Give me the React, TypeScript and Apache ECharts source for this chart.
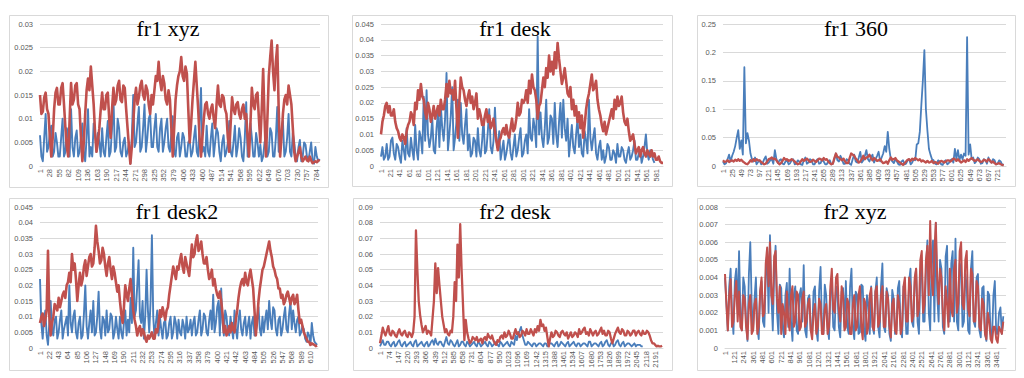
import React, { useEffect, useRef } from "react";
import * as echarts from "echarts";

// ---- chart data ----
// each series: values at k*step, plus values read at the half-step between them
const titles = ["fr1 xyz", "fr1 desk", "fr1 360", "fr1 desk2", "fr2 desk", "fr2 xyz"];
const lastIndex = [793, 594, 742, 626, 2251, 3599];
const labelStep = [27, 20, 24, 21, 73, 120];
const sampleStep = [8, 6, 8, 6, 22, 36];
const yMax = [0.03, 0.045, 0.25, 0.045, 0.09, 0.008];
const yStep = [0.005, 0.005, 0.05, 0.005, 0.01, 0.001];

const blue1 = [
  0.0065, 0.001, 0.011, 0.004, 0.0085, 0.003, 0.005, 0.002, 0.01, 0.003,
  0.006, 0.012, 0.002, 0.0075, 0.003, 0.009, 0.001, 0.012, 0.004, 0.009,
  0.003, 0.005, 0.008, 0.002, 0.0095, 0.003, 0.0145, 0.004, 0.008, 0.002,
  0.006, 0.003, 0.0005, 0.015, 0.005, 0.0125, 0.004, 0.013, 0.006, 0.011,
  0.004, 0.011, 0.003, 0.01, 0.005, 0.01, 0.003, 0.0105, 0.002, 0.007,
  0.004, 0.006, 0.002, 0.0055, 0.003, 0.0085, 0.002, 0.0165, 0.004, 0.0085,
  0.002, 0.009, 0.005, 0.007, 0.001, 0.0065, 0.003, 0.0095, 0.002, 0.0085,
  0.004, 0.006, 0.001, 0.0135, 0.005, 0.006, 0.002, 0.005, 0.0045, 0.002,
  0.006, 0.003, 0.007, 0.002, 0.0125, 0.004, 0.0095, 0.003, 0.011, 0.002,
  0.005, 0.001, 0.0055, 0.002, 0.0045, 0.001, 0.005, 0.0005, 0.002, 0.0015,
];
const blue1Mid = [
  0.002, 0.006, 0.003, 0.007, 0.002, 0.007, 0.002, 0.006, 0.002, 0.008,
  0.002, 0.004, 0.006, 0.002, 0.006, 0.003, 0.006, 0.002, 0.002, 0.007,
  0.007, 0.002, 0.003, 0.006, 0.002, 0.008, 0.003, 0.01, 0.003, 0.005,
  0.002, 0.005, 0.006, 0.004, 0.009, 0.003, 0.008, 0.003, 0.01, 0.004,
  0.008, 0.004, 0.008, 0.003, 0.008, 0.004, 0.007, 0.003, 0.006, 0.002,
  0.007, 0.002, 0.005, 0.002, 0.006, 0.003, 0.009, 0.003, 0.002, 0.003,
  0.006, 0.002, 0.008, 0.003, 0.005, 0.002, 0.005, 0.003, 0.005, 0.002,
  0.008, 0.002, 0.006, 0.002, 0.009, 0.002, 0.007, 0.002, 0.001, 0.005,
  0.002, 0.008, 0.002, 0.006, 0.003, 0.007, 0.002, 0.006, 0.003, 0.007,
  0.002, 0.004, 0.001, 0.005, 0.002, 0.003, 0.001, 0.004, 0.001,
];
const red1 = [
  0.015, 0.0115, 0.0155, 0.011, 0.002, 0.012, 0.0165, 0.013, 0.0175, 0.008,
  0.002, 0.0175, 0.014, 0.0175, 0.012, 0.001, 0.011, 0.0185, 0.021, 0.013,
  0.003, 0.008, 0.0155, 0.012, 0.0155, 0.006, 0.0165, 0.014, 0.018, 0.0135,
  0.0165, 0.008, 0.0005, 0.009, 0.0165, 0.0145, 0.018, 0.014, 0.016, 0.011,
  0.013, 0.019, 0.022, 0.016, 0.0175, 0.013, 0.014, 0.002, 0.014, 0.019,
  0.023, 0.018, 0.0195, 0.005, 0.014, 0.022, 0.012, 0.002, 0.01, 0.0135,
  0.01, 0.013, 0.008, 0.017, 0.0125, 0.0145, 0.011, 0.003, 0.0145, 0.011,
  0.0135, 0.01, 0.013, 0.011, 0.002, 0.0165, 0.012, 0.0155, 0.005, 0.0205,
  0.002, 0.019, 0.0265, 0.016, 0.0255, 0.002, 0.011, 0.015, 0.017, 0.013,
  0.003, 0.002, 0.004, 0.001, 0.002, 0.001, 0.0012, 0.0008, 0.0008, 0.001,
];
const red1Mid = [
  0.011, 0.0145, 0.012, 0.006, 0.006, 0.0155, 0.013, 0.0165, 0.013, 0.004,
  0.01, 0.013, 0.017, 0.013, 0.006, 0.005, 0.016, 0.016, 0.017, 0.007,
  0.005, 0.012, 0.012, 0.015, 0.01, 0.012, 0.013, 0.017, 0.014, 0.017,
  0.012, 0.004, 0.004, 0.014, 0.013, 0.017, 0.015, 0.017, 0.013, 0.015,
  0.016, 0.018, 0.018, 0.019, 0.014, 0.016, 0.008, 0.008, 0.017, 0.02,
  0.019, 0.021, 0.012, 0.009, 0.018, 0.017, 0.006, 0.006, 0.013, 0.011,
  0.012, 0.01, 0.013, 0.013, 0.015, 0.012, 0.006, 0.009, 0.012, 0.013,
  0.011, 0.012, 0.01, 0.006, 0.009, 0.013, 0.015, 0.01, 0.012, 0.01,
  0.01, 0.023, 0.02, 0.022, 0.012, 0.006, 0.014, 0.013, 0.015, 0.008,
  0.001, 0.003, 0.002, 0.0015, 0.0012, 0.002, 0.0006, 0.001, 0.0012,
];

const blue2 = [
  0.003, 0.002, 0.007, 0.003, 0.009, 0.002, 0.006, 0.001, 0.005, 0.012,
  0.003, 0.005, 0.013, 0.002, 0.009, 0.022, 0.024, 0.006, 0.015, 0.004,
  0.017, 0.019, 0.008, 0.0295, 0.01, 0.025, 0.009, 0.021, 0.02, 0.007,
  0.018, 0.01, 0.004, 0.008, 0.012, 0.003, 0.015, 0.005, 0.018, 0.004,
  0.0185, 0.006, 0.002, 0.008, 0.004, 0.01, 0.002, 0.01, 0.005, 0.012,
  0.004, 0.01, 0.018, 0.008, 0.012, 0.041, 0.017, 0.006, 0.021, 0.009,
  0.015, 0.02, 0.006, 0.02, 0.021, 0.008, 0.003, 0.013, 0.004, 0.015,
  0.01, 0.003, 0.008, 0.021, 0.005, 0.012, 0.002, 0.008, 0.005, 0.003,
  0.006, 0.002, 0.004, 0.007, 0.003, 0.005, 0.001, 0.006, 0.003, 0.008,
  0.002, 0.005, 0.003, 0.01, 0.002, 0.004, 0.001,
];
const blue2Mid = [
  0.006, 0.003, 0.002, 0.008, 0.004, 0.007, 0.003, 0.008, 0.002, 0.004,
  0.009, 0.002, 0.005, 0.011, 0.004, 0.008, 0.01, 0.009, 0.005, 0.012,
  0.006, 0.012, 0.015, 0.005, 0.016, 0.005, 0.014, 0.008, 0.01, 0.013,
  0.005, 0.003, 0.009, 0.003, 0.005, 0.008, 0.004, 0.011, 0.006, 0.008,
  0.008, 0.011, 0.005, 0.002, 0.007, 0.004, 0.006, 0.003, 0.009, 0.003,
  0.008, 0.004, 0.009, 0.015, 0.006, 0.01, 0.009, 0.012, 0.007, 0.016,
  0.007, 0.01, 0.014, 0.009, 0.012, 0.015, 0.008, 0.006, 0.01, 0.006,
  0.004, 0.011, 0.004, 0.009, 0.009, 0.004, 0.006, 0.002, 0.001, 0.007,
  0.002, 0.005, 0.001, 0.003, 0.006, 0.002, 0.004, 0.002, 0.005, 0.002,
  0.004, 0.001, 0.006, 0.004, 0.005, 0.002,
];
const red2 = [
  0.01, 0.016, 0.02, 0.019, 0.016, 0.014, 0.011, 0.008, 0.009, 0.011,
  0.014, 0.016, 0.02, 0.024, 0.026, 0.021, 0.015, 0.018, 0.016, 0.015,
  0.019, 0.021, 0.018, 0.026, 0.027, 0.024, 0.027, 0.009, 0.028, 0.024,
  0.019, 0.024, 0.022, 0.02, 0.015, 0.016, 0.013, 0.018, 0.016, 0.013,
  0.011, 0.005, 0.009, 0.012, 0.013, 0.009, 0.015, 0.012, 0.02, 0.017,
  0.02, 0.024, 0.027, 0.029, 0.024, 0.015, 0.02, 0.028, 0.031, 0.035,
  0.033, 0.036, 0.039, 0.03, 0.028, 0.027, 0.022, 0.018, 0.016, 0.014,
  0.012, 0.009, 0.018, 0.023, 0.029, 0.025, 0.021, 0.016, 0.011, 0.01,
  0.014, 0.018, 0.021, 0.022, 0.02, 0.017, 0.013, 0.011, 0.009, 0.007,
  0.005, 0.003, 0.006, 0.003, 0.004, 0.005, 0.004, 0.002, 0.0015, 0.001,
];
const red2Mid = [
  0.014, 0.019, 0.017, 0.016, 0.018, 0.012, 0.009, 0.01, 0.007, 0.013,
  0.017, 0.013, 0.018, 0.021, 0.022, 0.017, 0.02, 0.014, 0.019, 0.017,
  0.016, 0.018, 0.021, 0.022, 0.023, 0.021, 0.018, 0.02, 0.025, 0.021,
  0.022, 0.02, 0.018, 0.023, 0.018, 0.013, 0.016, 0.014, 0.012, 0.015,
  0.008, 0.008, 0.011, 0.01, 0.01, 0.012, 0.011, 0.015, 0.016, 0.021,
  0.021, 0.02, 0.023, 0.025, 0.021, 0.019, 0.024, 0.025, 0.028, 0.03,
  0.029, 0.031, 0.034, 0.026, 0.031, 0.023, 0.025, 0.021, 0.019, 0.017,
  0.016, 0.013, 0.021, 0.026, 0.024, 0.027, 0.018, 0.013, 0.014, 0.012,
  0.016, 0.015, 0.018, 0.019, 0.022, 0.014, 0.015, 0.008, 0.01, 0.004,
  0.006, 0.005, 0.004, 0.005, 0.003, 0.003, 0.002, 0.003, 0.001,
];

const blue3 = [
  0.008, 0.005, 0.02, 0.018, 0.035, 0.063, 0.045, 0.174, 0.058, 0.022,
  0.008, 0.003, 0.01, 0.005, 0.017, 0.006, 0.012, 0.028, 0.005, 0.012,
  0.003, 0.01, 0.005, 0.012, 0.004, 0.008, 0.002, 0.015, 0.006, 0.01,
  0.003, 0.012, 0.005, 0.008, 0.003, 0.01, 0.004, 0.022, 0.008, 0.012,
  0.004, 0.01, 0.002, 0.02, 0.006, 0.025, 0.01, 0.028, 0.008, 0.02,
  0.012, 0.025, 0.015, 0.035, 0.06, 0.012, 0.005, 0.008, 0.002, 0.01,
  0.004, 0.012, 0.006, 0.01, 0.04, 0.107, 0.204, 0.062, 0.02, 0.01,
  0.003, 0.008, 0.002, 0.01, 0.005, 0.012, 0.03, 0.028, 0.02, 0.022,
  0.227, 0.038, 0.015, 0.008, 0.012, 0.005, 0.01, 0.015, 0.006, 0.01,
  0.004, 0.008, 0.003,
];
const blue3Mid = [
  0.003, 0.012, 0.008, 0.025, 0.05, 0.03, 0.02, 0.04, 0.045, 0.012,
  0.015, 0.007, 0.003, 0.012, 0.004, 0.01, 0.004, 0.012, 0.01, 0.004,
  0.008, 0.003, 0.01, 0.003, 0.01, 0.003, 0.01, 0.004, 0.012, 0.003,
  0.009, 0.004, 0.012, 0.003, 0.008, 0.003, 0.012, 0.01, 0.018, 0.004,
  0.012, 0.004, 0.012, 0.008, 0.015, 0.006, 0.018, 0.012, 0.015, 0.006,
  0.018, 0.008, 0.022, 0.025, 0.03, 0.008, 0.012, 0.003, 0.008, 0.003,
  0.01, 0.003, 0.012, 0.038, 0.06, 0.15, 0.1, 0.03, 0.012, 0.004,
  0.01, 0.003, 0.008, 0.003, 0.01, 0.006, 0.012, 0.01, 0.012, 0.018,
  0.02, 0.012, 0.005, 0.015, 0.004, 0.012, 0.004, 0.008, 0.012, 0.003,
  0.01, 0.002,
];
const red3 = [
  0.01, 0.008, 0.007, 0.01, 0.011, 0.012, 0.011, 0.006, 0.003, 0.01,
  0.012, 0.012, 0.01, 0.005, 0.004, 0.012, 0.015, 0.013, 0.006, 0.005,
  0.014, 0.012, 0.01, 0.01, 0.005, 0.004, 0.012, 0.011, 0.01, 0.008,
  0.009, 0.01, 0.012, 0.014, 0.012, 0.005, 0.004, 0.022, 0.015, 0.01,
  0.008, 0.005, 0.022, 0.018, 0.01, 0.008, 0.018, 0.015, 0.02, 0.01,
  0.012, 0.01, 0.008, 0.006, 0.004, 0.015, 0.012, 0.01, 0.006, 0.002,
  0.008, 0.012, 0.013, 0.014, 0.01, 0.008, 0.008, 0.009, 0.007, 0.005,
  0.006, 0.007, 0.008, 0.008, 0.01, 0.01, 0.012, 0.012, 0.006, 0.01,
  0.012, 0.012, 0.011, 0.01, 0.009, 0.008, 0.01, 0.012, 0.006, 0.005,
  0.004, 0.003, 0.001,
];
const red3Mid = [
  0.007, 0.01, 0.009, 0.008, 0.009, 0.009, 0.008, 0.004, 0.006, 0.008,
  0.009, 0.01, 0.007, 0.003, 0.008, 0.013, 0.012, 0.01, 0.003, 0.009,
  0.011, 0.009, 0.012, 0.008, 0.003, 0.008, 0.009, 0.013, 0.007, 0.011,
  0.007, 0.013, 0.01, 0.011, 0.008, 0.003, 0.014, 0.016, 0.012, 0.013,
  0.005, 0.014, 0.02, 0.013, 0.006, 0.012, 0.012, 0.016, 0.014, 0.014,
  0.009, 0.012, 0.005, 0.008, 0.01, 0.011, 0.014, 0.008, 0.004, 0.005,
  0.011, 0.009, 0.011, 0.012, 0.012, 0.01, 0.006, 0.006, 0.009, 0.007,
  0.004, 0.009, 0.006, 0.01, 0.008, 0.013, 0.009, 0.009, 0.008, 0.007,
  0.009, 0.014, 0.009, 0.012, 0.007, 0.011, 0.008, 0.01, 0.008, 0.003,
  0.005, 0.002,
];

const blue4 = [
  0.022, 0.003, 0.012, 0.001, 0.015, 0.004, 0.01, 0.005, 0.012, 0.006,
  0.01, 0.02, 0.005, 0.012, 0.003, 0.01, 0.004, 0.02, 0.003, 0.012,
  0.015, 0.005, 0.018, 0.003, 0.009, 0.012, 0.006, 0.01, 0.005, 0.006,
  0.01, 0.003, 0.012, 0.009, 0.016, 0.032, 0.012, 0.028, 0.008, 0.003,
  0.025, 0.005, 0.036, 0.003, 0.012, 0.01, 0.003, 0.009, 0.004, 0.01,
  0.005, 0.008, 0.009, 0.004, 0.007, 0.01, 0.006, 0.004, 0.01, 0.005,
  0.012, 0.006, 0.01, 0.004, 0.012, 0.017, 0.008, 0.015, 0.019, 0.004,
  0.01, 0.004, 0.006, 0.012, 0.003, 0.012, 0.004, 0.01, 0.007, 0.003,
  0.01, 0.005, 0.013, 0.004, 0.005, 0.012, 0.015, 0.006, 0.012, 0.004,
  0.01, 0.006, 0.013, 0.005, 0.015, 0.012, 0.005, 0.01, 0.005, 0.006,
  0.002, 0.004, 0.008, 0.002, 0.001,
];
const blue4Mid = [
  0.008, 0.009, 0.004, 0.008, 0.006, 0.009, 0.003, 0.009, 0.003, 0.008,
  0.004, 0.008, 0.01, 0.005, 0.008, 0.003, 0.011, 0.007, 0.008, 0.005,
  0.004, 0.01, 0.006, 0.01, 0.004, 0.005, 0.011, 0.003, 0.01, 0.003,
  0.005, 0.008, 0.004, 0.005, 0.008, 0.01, 0.02, 0.01, 0.015, 0.01,
  0.012, 0.015, 0.01, 0.008, 0.004, 0.006, 0.008, 0.003, 0.008, 0.003,
  0.01, 0.003, 0.005, 0.009, 0.003, 0.005, 0.009, 0.008, 0.004, 0.009,
  0.004, 0.011, 0.005, 0.009, 0.006, 0.005, 0.013, 0.004, 0.008, 0.012,
  0.005, 0.01, 0.003, 0.006, 0.009, 0.006, 0.008, 0.004, 0.01, 0.008,
  0.004, 0.009, 0.006, 0.01, 0.009, 0.006, 0.009, 0.013, 0.006, 0.009,
  0.004, 0.01, 0.006, 0.011, 0.006, 0.008, 0.009, 0.004, 0.007, 0.003,
  0.005, 0.001, 0.004, 0.0015,
];
const red4 = [
  0.008, 0.011, 0.009, 0.031, 0.004, 0.01, 0.013, 0.016, 0.015, 0.018,
  0.02, 0.024, 0.03, 0.027, 0.015, 0.024, 0.022, 0.028, 0.026, 0.03,
  0.027, 0.039, 0.031, 0.028, 0.03, 0.023, 0.029, 0.022, 0.024, 0.018,
  0.015, 0.008, 0.02, 0.015, 0.022, 0.012, 0.007, 0.006, 0.004, 0.005,
  0.002, 0.003, 0.005, 0.003, 0.005, 0.012, 0.013, 0.009, 0.013, 0.02,
  0.026, 0.022, 0.025, 0.03, 0.024, 0.027, 0.023, 0.033, 0.03, 0.036,
  0.032, 0.03, 0.027, 0.025, 0.023, 0.02, 0.019, 0.016, 0.015, 0.005,
  0.004, 0.007, 0.008, 0.005, 0.012, 0.019, 0.022, 0.024, 0.02, 0.025,
  0.019, 0.004, 0.015, 0.022, 0.026, 0.03, 0.034, 0.029, 0.025, 0.022,
  0.019, 0.017, 0.015, 0.018, 0.014, 0.017, 0.015, 0.012, 0.009, 0.005,
  0.003, 0.002, 0.0015, 0.001, 0.0008,
];
const red4Mid = [
  0.01, 0.007, 0.012, 0.01, 0.008, 0.014, 0.012, 0.013, 0.017, 0.016,
  0.021, 0.021, 0.025, 0.022, 0.02, 0.02, 0.026, 0.023, 0.029, 0.026,
  0.032, 0.034, 0.027, 0.032, 0.026, 0.027, 0.025, 0.026, 0.021, 0.02,
  0.011, 0.013, 0.017, 0.019, 0.017, 0.009, 0.004, 0.007, 0.006, 0.003,
  0.004, 0.004, 0.003, 0.006, 0.008, 0.01, 0.011, 0.012, 0.017, 0.023,
  0.024, 0.026, 0.028, 0.026, 0.029, 0.025, 0.028, 0.029, 0.034, 0.031,
  0.034, 0.027, 0.029, 0.022, 0.025, 0.022, 0.017, 0.018, 0.011, 0.007,
  0.005, 0.005, 0.006, 0.009, 0.016, 0.021, 0.02, 0.021, 0.023, 0.022,
  0.012, 0.009, 0.019, 0.025, 0.028, 0.032, 0.031, 0.026, 0.023, 0.019,
  0.016, 0.014, 0.017, 0.016, 0.016, 0.014, 0.017, 0.008, 0.007, 0.004,
  0.002, 0.001, 0.0012, 0.0006,
];

const blue5 = [
  0.001, 0.005, 0.002, 0.004, 0.001, 0.004, 0.002, 0.005, 0.001, 0.004,
  0.002, 0.004, 0.001, 0.005, 0.002, 0.004, 0.001, 0.004, 0.002, 0.005,
  0.006, 0.002, 0.004, 0.001, 0.007, 0.002, 0.004, 0.001, 0.005, 0.002,
  0.004, 0.001, 0.003, 0.002, 0.004, 0.001, 0.003, 0.002, 0.004, 0.001,
  0.003, 0.002, 0.004, 0.001, 0.003, 0.002, 0.004, 0.001, 0.003, 0.008,
  0.009, 0.0135, 0.005, 0.002, 0.003, 0.001, 0.003, 0.002, 0.003, 0.001,
  0.003, 0.002, 0.003, 0.001, 0.004, 0.002, 0.003, 0.001, 0.004, 0.002,
  0.004, 0.001, 0.003, 0.002, 0.003, 0.001, 0.004, 0.002, 0.003, 0.001,
  0.004, 0.002, 0.005, 0.001, 0.004, 0.002, 0.005, 0.001, 0.004, 0.002,
  0.003, 0.001, 0.003, 0.002, 0.002, 0.001,
];
const blue5Mid = [
  0.003, 0.002, 0.004, 0.002, 0.003, 0.001, 0.004, 0.002, 0.003, 0.001,
  0.003, 0.002, 0.004, 0.001, 0.003, 0.002, 0.003, 0.001, 0.004, 0.002,
  0.003, 0.004, 0.002, 0.004, 0.003, 0.005, 0.002, 0.003, 0.001, 0.004,
  0.002, 0.004, 0.001, 0.003, 0.002, 0.004, 0.001, 0.003, 0.002, 0.004,
  0.001, 0.003, 0.002, 0.004, 0.001, 0.003, 0.002, 0.004, 0.002, 0.005,
  0.011, 0.008, 0.002, 0.004, 0.002, 0.003, 0.001, 0.003, 0.002, 0.003,
  0.001, 0.003, 0.002, 0.003, 0.001, 0.004, 0.002, 0.003, 0.001, 0.003,
  0.002, 0.003, 0.001, 0.003, 0.002, 0.004, 0.001, 0.003, 0.002, 0.003,
  0.001, 0.004, 0.002, 0.003, 0.001, 0.004, 0.002, 0.003, 0.001, 0.003,
  0.002, 0.002, 0.001, 0.002, 0.001,
];
const red5 = [
  0.003, 0.013, 0.008, 0.014, 0.008, 0.01, 0.007, 0.012, 0.008, 0.011,
  0.007, 0.009, 0.01, 0.075, 0.03, 0.015, 0.012, 0.009, 0.01, 0.019,
  0.054, 0.051, 0.03, 0.015, 0.012, 0.008, 0.01, 0.042, 0.066, 0.079,
  0.028, 0.018, 0.006, 0.004, 0.006, 0.007, 0.005, 0.003, 0.007, 0.009,
  0.006, 0.005, 0.002, 0.004, 0.008, 0.01, 0.008, 0.009, 0.006, 0.012,
  0.01, 0.008, 0.01, 0.012, 0.009, 0.01, 0.012, 0.014, 0.018, 0.015,
  0.013, 0.001, 0.01, 0.008, 0.01, 0.007, 0.011, 0.008, 0.006, 0.01,
  0.008, 0.009, 0.012, 0.01, 0.013, 0.01, 0.012, 0.008, 0.011, 0.009,
  0.013, 0.011, 0.008, 0.01, 0.003, 0.009, 0.013, 0.009, 0.011, 0.008,
  0.01, 0.009, 0.011, 0.01, 0.009, 0.011, 0.009, 0.01, 0.005, 0.003,
  0.001, 0.001, 0.0015,
];
const red5Mid = [
  0.008, 0.01, 0.011, 0.009, 0.011, 0.008, 0.01, 0.009, 0.01, 0.008,
  0.01, 0.007, 0.02, 0.05, 0.021, 0.01, 0.014, 0.011, 0.008, 0.03,
  0.035, 0.04, 0.02, 0.01, 0.009, 0.011, 0.02, 0.03, 0.045, 0.05,
  0.005, 0.01, 0.003, 0.007, 0.005, 0.004, 0.006, 0.006, 0.005, 0.007,
  0.008, 0.003, 0.005, 0.007, 0.006, 0.007, 0.011, 0.006, 0.009, 0.009,
  0.007, 0.011, 0.008, 0.009, 0.012, 0.008, 0.01, 0.011, 0.014, 0.011,
  0.007, 0.006, 0.007, 0.011, 0.008, 0.01, 0.009, 0.01, 0.008, 0.007,
  0.01, 0.007, 0.009, 0.012, 0.009, 0.008, 0.01, 0.01, 0.008, 0.011,
  0.009, 0.008, 0.011, 0.006, 0.006, 0.011, 0.01, 0.012, 0.008, 0.011,
  0.008, 0.011, 0.008, 0.011, 0.008, 0.009, 0.011, 0.008, 0.003, 0.002,
  0.0015, 0.001,
];

const blue6 = [
  0.004, 0.001, 0.0045, 0.0008, 0.0045, 0.0055, 0.001, 0.0035, 0.0004, 0.006,
  0.001, 0.004, 0.0005, 0.0038, 0.0012, 0.0055, 0.0064, 0.001, 0.0058, 0.0008,
  0.0034, 0.0006, 0.0037, 0.0045, 0.0004, 0.0035, 0.0008, 0.0034, 0.0047, 0.0006,
  0.003, 0.0009, 0.0035, 0.0004, 0.0046, 0.0008, 0.003, 0.0005, 0.0038, 0.001,
  0.0032, 0.0006, 0.0034, 0.0038, 0.0008, 0.0045, 0.0005, 0.003, 0.0009, 0.0035,
  0.0004, 0.0025, 0.0035, 0.0008, 0.004, 0.0006, 0.0048, 0.0009, 0.003, 0.0004,
  0.0028, 0.001, 0.0038, 0.0006, 0.003, 0.0008, 0.0045, 0.0012, 0.0045, 0.0008,
  0.0048, 0.0015, 0.0061, 0.001, 0.0061, 0.0071, 0.0015, 0.0045, 0.0008, 0.0058,
  0.0015, 0.0055, 0.0062, 0.001, 0.0045, 0.0015, 0.0035, 0.0008, 0.0055, 0.0012,
  0.0042, 0.0006, 0.0035, 0.0004, 0.003, 0.0006, 0.0038, 0.0008, 0.0023, 0.0018,
];
const blue6Mid = [
  0.0025, 0.0035, 0.002, 0.0038, 0.002, 0.002, 0.004, 0.0015, 0.0042, 0.0025,
  0.0028, 0.0012, 0.0032, 0.0015, 0.004, 0.002, 0.003, 0.0042, 0.002, 0.0036,
  0.0012, 0.003, 0.0012, 0.0015, 0.003, 0.001, 0.003, 0.0015, 0.001, 0.0028,
  0.001, 0.0032, 0.001, 0.0033, 0.0012, 0.0036, 0.0012, 0.0032, 0.0012, 0.0035,
  0.0012, 0.0032, 0.0012, 0.0012, 0.0035, 0.0012, 0.0032, 0.0008, 0.0036, 0.001,
  0.003, 0.0008, 0.0012, 0.0032, 0.0012, 0.0035, 0.0012, 0.0034, 0.0008, 0.0033,
  0.0008, 0.0034, 0.001, 0.0035, 0.0008, 0.0038, 0.0015, 0.0038, 0.0015, 0.004,
  0.0015, 0.0045, 0.002, 0.005, 0.0015, 0.003, 0.005, 0.0012, 0.0052, 0.0015,
  0.0048, 0.0015, 0.0015, 0.0048, 0.0012, 0.0042, 0.001, 0.0045, 0.0015, 0.004,
  0.001, 0.0034, 0.0008, 0.0032, 0.0008, 0.003, 0.0008, 0.002, 0.0008,
];
const red6 = [
  0.0042, 0.001, 0.0039, 0.0015, 0.0038, 0.0032, 0.001, 0.0028, 0.0005, 0.003,
  0.001, 0.0028, 0.0012, 0.004, 0.002, 0.0057, 0.006, 0.0025, 0.0055, 0.002,
  0.0008, 0.002, 0.0032, 0.001, 0.0035, 0.0015, 0.003, 0.0012, 0.0032, 0.0015,
  0.0028, 0.0005, 0.0025, 0.0012, 0.0025, 0.0008, 0.0025, 0.0012, 0.0045, 0.002,
  0.0042, 0.0015, 0.003, 0.0012, 0.0025, 0.0008, 0.003, 0.0012, 0.0035, 0.0005,
  0.0025, 0.0012, 0.0034, 0.001, 0.0035, 0.0015, 0.0035, 0.0012, 0.0028, 0.0006,
  0.0028, 0.0008, 0.0025, 0.0012, 0.004, 0.0015, 0.0035, 0.0018, 0.0045, 0.0022,
  0.0055, 0.0025, 0.0058, 0.0072, 0.003, 0.0071, 0.0025, 0.004, 0.001, 0.0025,
  0.0045, 0.0018, 0.005, 0.0025, 0.006, 0.0022, 0.0055, 0.0018, 0.0042, 0.0015,
  0.0035, 0.001, 0.0025, 0.0005, 0.0015, 0.0003, 0.0012, 0.0003, 0.001, 0.0015,
];
const red6Mid = [
  0.0025, 0.003, 0.0012, 0.003, 0.0015, 0.0012, 0.003, 0.0012, 0.0025, 0.0008,
  0.0025, 0.0008, 0.0032, 0.0018, 0.0048, 0.0035, 0.003, 0.0052, 0.0028, 0.0035,
  0.0025, 0.0008, 0.0015, 0.003, 0.0012, 0.0032, 0.001, 0.0028, 0.0012, 0.0025,
  0.001, 0.002, 0.0008, 0.0028, 0.0008, 0.0022, 0.0008, 0.0035, 0.0022, 0.004,
  0.0022, 0.0035, 0.001, 0.0028, 0.0008, 0.0025, 0.001, 0.003, 0.0012, 0.0028,
  0.0008, 0.003, 0.0012, 0.0032, 0.0012, 0.003, 0.0012, 0.0032, 0.0012, 0.0025,
  0.001, 0.003, 0.0008, 0.0035, 0.0015, 0.004, 0.0015, 0.004, 0.0018, 0.005,
  0.002, 0.005, 0.003, 0.004, 0.0055, 0.004, 0.0045, 0.002, 0.0035, 0.0012,
  0.0022, 0.0045, 0.002, 0.0055, 0.0025, 0.005, 0.0022, 0.0045, 0.0015, 0.0038,
  0.0012, 0.0028, 0.0008, 0.002, 0.0005, 0.0012, 0.0005, 0.0012, 0.0008,
];

const blueSeries = [blue1, blue2, blue3, blue4, blue5, blue6];
const blueMids = [blue1Mid, blue2Mid, blue3Mid, blue4Mid, blue5Mid, blue6Mid];
const redSeries = [red1, red2, red3, red4, red5, red6];
const redMids = [red1Mid, red2Mid, red3Mid, red4Mid, red5Mid, red6Mid];

// ---- layout ----
const grids = [
  { left: 40, top: 24, width: 280, height: 142 },
  { left: 381, top: 24, width: 282, height: 142 },
  { left: 723, top: 24, width: 283, height: 142 },
  { left: 40, top: 207, width: 278, height: 141 },
  { left: 380, top: 207, width: 283, height: 141 },
  { left: 725, top: 207, width: 281, height: 141 },
];
const frames = [
  { x: 9, y: 15, w: 319, h: 172 },
  { x: 352, y: 15, w: 320, h: 171 },
  { x: 697, y: 15, w: 318, h: 171 },
  { x: 9, y: 198, w: 319, h: 172 },
  { x: 353, y: 198, w: 319, h: 172 },
  { x: 697, y: 198, w: 318, h: 172 },
];
const titlePos = [
  { x: 168, y: 28 },
  { x: 515, y: 28 },
  { x: 856, y: 28 },
  { x: 177, y: 211 },
  { x: 515, y: 211 },
  { x: 855, y: 211 },
];
const blueWidth = [1.9, 1.9, 1.8, 1.9, 1.8, 1.8];
const redWidth = [2.6, 2.6, 2.3, 2.6, 2.3, 2];

const BLUE = "#4a7ebb";
const RED = "#c0504d";
const GRID = "#d9d9d9";
const LABEL = "#595959";

function mergePoints(vals: number[], mids: number[], s: number) {
  const out: number[][] = [];
  vals.forEach((v, k) => {
    out.push([k * s, v]);
    if (k < mids.length) out.push([k * s + s / 2, mids[k]]);
  });
  return out;
}

function buildOption() {
  const xAxis: any[] = [];
  const yAxis: any[] = [];
  const series: any[] = [];
  const graphic: any[] = [];
  for (let i = 0; i < 6; i++) {
    const step = labelStep[i];
    xAxis.push({
      type: "value",
      gridIndex: i,
      min: 0,
      max: lastIndex[i],
      interval: step,
      axisLine: { show: true, lineStyle: { color: GRID, width: 1 } },
      axisTick: { show: false },
      splitLine: { show: false },
      axisLabel: {
        rotate: 90,
        fontSize: 7.5,
        color: LABEL,
        margin: 3,
        fontFamily: "Liberation Sans",
        showMaxLabel: true,
        hideOverlap: false,
        formatter: (v: number) => (Math.round(v) % step === 0 ? String(Math.round(v) + 1) : ""),
      },
    });
    yAxis.push({
      type: "value",
      gridIndex: i,
      min: 0,
      max: yMax[i],
      interval: yStep[i],
      axisLine: { show: false },
      axisTick: { show: false },
      splitLine: { show: true, lineStyle: { color: GRID, width: 1 } },
      axisLabel: { fontSize: 7.5, color: LABEL, margin: 7, fontFamily: "Liberation Sans" },
    });
    const s = sampleStep[i];
    series.push({
      type: "line",
      xAxisIndex: i,
      yAxisIndex: i,
      symbol: "none",
      data: mergePoints(blueSeries[i], blueMids[i], s),
      lineStyle: { color: BLUE, width: blueWidth[i], join: "round" },
      itemStyle: { color: BLUE },
      z: 2,
    });
    series.push({
      type: "line",
      xAxisIndex: i,
      yAxisIndex: i,
      symbol: "none",
      data: mergePoints(redSeries[i], redMids[i], s),
      lineStyle: { color: RED, width: redWidth[i], join: "round" },
      itemStyle: { color: RED },
      z: 3,
    });
    const f = frames[i];
    graphic.push({
      type: "rect",
      shape: { x: f.x + 0.5, y: f.y + 0.5, width: f.w, height: f.h },
      style: { fill: "none", stroke: GRID, lineWidth: 1 },
      silent: true,
      z: 0,
    });
    graphic.push({
      type: "text",
      x: titlePos[i].x,
      y: titlePos[i].y,
      style: {
        text: titles[i],
        font: '22px "Liberation Serif"',
        fill: "#000000",
        textAlign: "center",
        textVerticalAlign: "middle",
      },
      z: 100,
    });
  }
  return {
    animation: false,
    backgroundColor: "#ffffff",
    grid: grids.map((g) => ({ ...g, containLabel: false })),
    xAxis,
    yAxis,
    series,
    graphic,
  };
}

export default function App() {
  const ref = useRef<HTMLDivElement>(null);
  useEffect(() => {
    document.body.style.margin = "0";
    if (!ref.current) return;
    const chart = echarts.init(ref.current, undefined, { renderer: "svg" });
    chart.setOption(buildOption());
    return () => chart.dispose();
  }, []);
  return <div ref={ref} style={{ width: 1024, height: 378 }} />;
}
